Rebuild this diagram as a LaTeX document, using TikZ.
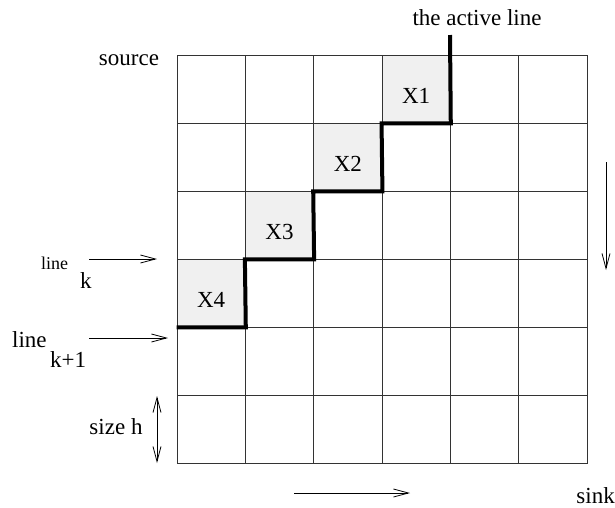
\documentclass[tikz,border=0pt]{standalone}
\usepackage{fontspec}
\setmainfont{Liberation Serif}
\usetikzlibrary{arrows.meta}
\tikzset{
  cellbox/.style={draw=black!80,line width=0.9pt,minimum width=68.33pt,minimum height=68pt,inner sep=0pt},
  busy/.style={cellbox,fill=black!6},
  txt/.style={inner sep=0pt},
  flow/.style={-{Straight Barb[length=15pt,width=8pt]},line width=0.8pt},
  both/.style={{Straight Barb[length=15pt,width=8pt]}-{Straight Barb[length=15pt,width=8pt]},line width=0.8pt},
  stair/.style={line width=4pt,line join=miter},
}
\begin{document}
\begin{tikzpicture}[x=1pt,y=-1pt,font=\fontsize{23}{27}\selectfont]
        \useasboundingbox (0,0) rectangle (615,507);
        \foreach \c in {0,...,5}
            \foreach \r in {0,...,5}
                \node[cellbox] (c\c\r) at ({211.17+68.33*\c},{89+68*\r}) {}; %grid
        \foreach \c/\r/\n in {3/0/1,2/1/2,1/2/3,0/3/4}{
            \node[busy] (x\n) at (c\c\r) {};
            \node[txt,anchor=base] (t\n) at ([yshift=-14pt]x\n.center) {X\n};
        }
        \coordinate (act) at (450,35);
        \draw[stair] (act) -- (x1.south east) -- (x1.south west) -- (x2.south east) -- (x2.south west)
            -- (x3.south east) -- (x3.south west) -- (x4.south east) -- (x4.south west); %active line
        \node[txt,anchor=base] (actlbl) at (477,25) {the active line};
        \node[txt,anchor=base] (src) at (129,65) {source};
        \node[txt,anchor=base east] (snk) at (615,503) {sink};
        \node[txt,anchor=base west,font=\fontsize{18}{20}\selectfont] (ln) at (41,269) {line};
        \node[txt,anchor=base west] (k) at (80,288) {k};
        \node[txt,anchor=base west] (ln1) at (12,347) {line};
        \node[txt,anchor=base west] (k1) at (50,367) {k+1};
        \node[txt,anchor=base] (sz) at (116,434) {size h};
        % arrows
        \coordinate (a1) at (89,259); \coordinate (b1) at (157,259);
        \coordinate (a2) at (89,338); \coordinate (b2) at (168,338);
        \coordinate (a3) at (157,396); \coordinate (b3) at (157,463);
        \coordinate (a4) at (294,493); \coordinate (b4) at (410,493);
        \coordinate (a5) at (606,162); \coordinate (b5) at (606,270);
        \draw[flow] (a1) -- (b1);
        \draw[flow] (a2) -- (b2);
        \draw[both] (a3) -- (b3);
        \draw[flow] (a4) -- (b4);
        \draw[flow] (a5) -- (b5);
    \end{tikzpicture}
\end{document}
